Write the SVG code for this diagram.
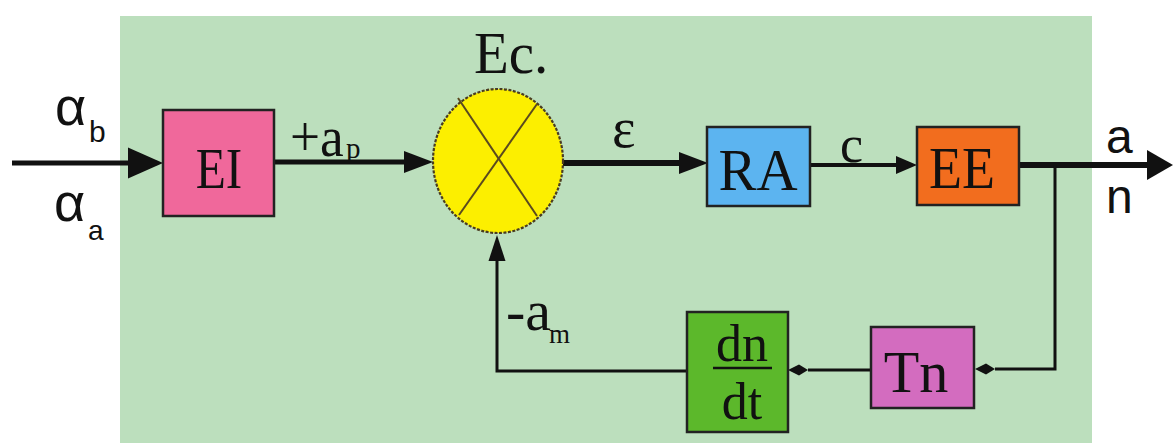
<svg xmlns="http://www.w3.org/2000/svg" width="1174" height="443" viewBox="0 0 1174 443">
<style>
.box{stroke:#222;stroke-width:2.5}
.serif{font-family:"Liberation Serif","Times New Roman",serif;fill:#111}
.sans{font-family:"Liberation Sans",Arial,sans-serif;fill:#111}
.ln{fill:none;stroke:#111;stroke-linejoin:miter}
.head{fill:#111}
</style>
<defs>
<marker id="arrowL" markerUnits="userSpaceOnUse" markerWidth="40" markerHeight="34" refX="0" refY="17" orient="auto" overflow="visible"><path class="head" d="M0,1.5 L35,17 L0,32.5 Z"/></marker>
<marker id="arrowM" markerUnits="userSpaceOnUse" markerWidth="32" markerHeight="24" refX="0" refY="12" orient="auto" overflow="visible"><path class="head" d="M0,1 L29,12 L0,23 Z"/></marker>
<marker id="arrowS" markerUnits="userSpaceOnUse" markerWidth="24" markerHeight="20" refX="0" refY="10" orient="auto" overflow="visible"><path class="head" d="M0,1 L21,10 L0,19 Z"/></marker>
<marker id="arrowOut" markerUnits="userSpaceOnUse" markerWidth="28" markerHeight="32" refX="0" refY="16" orient="auto" overflow="visible"><path class="head" d="M0,1 L26,16 L0,31 Z"/></marker>
<marker id="arrowUp" markerUnits="userSpaceOnUse" markerWidth="28" markerHeight="20" refX="0" refY="10" orient="auto" overflow="visible"><path class="head" d="M0,1.5 L26,10 L0,18.5 Z"/></marker>
<marker id="diamond" markerUnits="userSpaceOnUse" markerWidth="22" markerHeight="14" refX="0" refY="7" orient="auto" overflow="visible"><path class="head" d="M0,7 L9,1.5 L20,7 L9,12.5 Z"/></marker>
</defs>
<rect x="0" y="0" width="1174" height="443" fill="#ffffff"/>
<rect id="panel" x="120" y="16" width="972" height="427" fill="#bcdfbd"/>

<g id="connectors">
<line class="ln" x1="12" y1="163" x2="128" y2="163" stroke-width="5" marker-end="url(#arrowL)"/>
<line class="ln" x1="274" y1="162" x2="404" y2="162" stroke-width="5" marker-end="url(#arrowM)"/>
<line class="ln" x1="563" y1="163" x2="679" y2="163" stroke-width="6" marker-end="url(#arrowM)"/>
<line class="ln" x1="810" y1="165" x2="896" y2="165" stroke-width="4" marker-end="url(#arrowS)"/>
<line class="ln" x1="1019" y1="165" x2="1147" y2="165" stroke-width="6" marker-end="url(#arrowOut)"/>
<polyline class="ln" points="1055,165 1055,369 995,369" stroke-width="3" marker-end="url(#diamond)"/>
<line class="ln" x1="871" y1="370" x2="808" y2="370" stroke-width="3" marker-end="url(#diamond)"/>
<polyline class="ln" points="687,371 497,371 497,261" stroke-width="3" marker-end="url(#arrowUp)"/>
</g>

<g id="labels">
<text class="sans" x="55" y="125" font-size="54">α</text>
<text class="sans" x="89" y="142" font-size="30">b</text>
<text class="sans" x="54" y="221" font-size="54">α</text>
<text class="sans" x="88" y="240" font-size="28">a</text>
<text class="serif" transform="translate(290,156) scale(0.92,1)" font-size="58">+a</text>
<text class="serif" x="346" y="158" font-size="29">p</text>
<text class="serif" x="612" y="147" font-size="56">ε</text>
<text class="serif" x="840" y="162" font-size="52">c</text>
<text class="sans" x="1106" y="153" font-size="48">a</text>
<text class="sans" x="1106" y="213" font-size="48">n</text>
<text class="serif" x="506" y="330" font-size="58">-a</text>
<text class="serif" x="549" y="343" font-size="27">m</text>
</g>

<g id="EI">
<rect class="box" x="163" y="110" width="111" height="106" fill="#f0689b"/>
<text class="serif" transform="translate(219,188) scale(0.85,1)" text-anchor="middle" font-size="58">EI</text>
</g>

<g id="Ec">
<ellipse cx="498" cy="161" rx="65" ry="72" fill="#fcef00" stroke="#4a3c20" stroke-width="2.2" stroke-dasharray="3 1.5"/>
<line x1="458" y1="98" x2="537" y2="216" stroke="#5a4a1e" stroke-width="2"/>
<line x1="537" y1="104" x2="459" y2="215" stroke="#5a4a1e" stroke-width="2"/>
<text class="serif" transform="translate(474,73) scale(0.95,1)" font-size="60">Ec.</text>
</g>

<g id="RA">
<rect class="box" x="707" y="127" width="103" height="79" fill="#5cb4f0"/>
<text class="serif" transform="translate(758,190) scale(0.95,1)" text-anchor="middle" font-size="60">RA</text>
</g>

<g id="EE">
<rect class="box" x="917" y="127" width="102" height="78" fill="#f26d1e"/>
<text class="serif" transform="translate(962,188) scale(0.9,1)" text-anchor="middle" font-size="60">EE</text>
</g>

<g id="Tn">
<rect class="box" x="871" y="327" width="103" height="81" fill="#d36cbf"/>
<text class="serif" transform="translate(916,392) scale(0.97,1)" text-anchor="middle" font-size="60">Tn</text>
</g>

<g id="dndt">
<rect class="box" x="687" y="312" width="101" height="120" fill="#5cb82b"/>
<text class="serif" x="742" y="361" text-anchor="middle" font-size="52">dn</text>
<line x1="713" y1="368" x2="772" y2="368" stroke="#111" stroke-width="2.5"/>
<text class="serif" x="742" y="419" text-anchor="middle" font-size="52">dt</text>
</g>
</svg>
